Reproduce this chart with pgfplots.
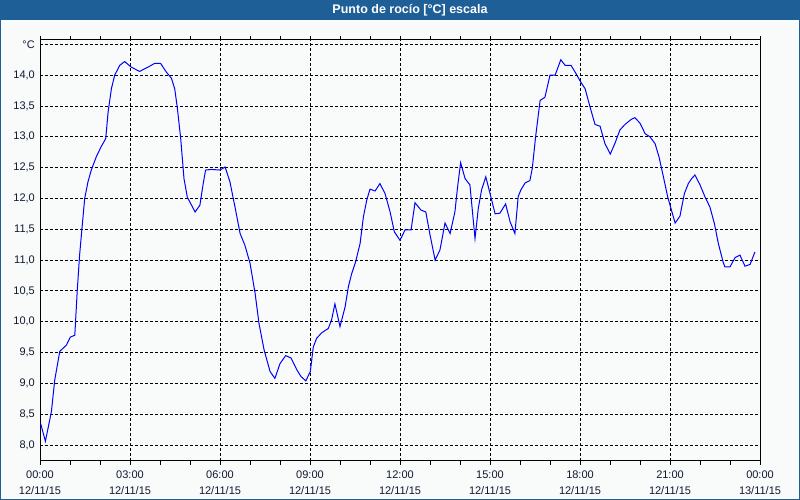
\documentclass[border=0pt]{standalone}
\usepackage{pgfplots}
\pgfplotsset{compat=1.18}
\usepackage{fontspec}
\setmainfont{Liberation Sans}
\definecolor{bgc}{HTML}{F9FBFA}
\definecolor{titlec}{HTML}{1E5F97}
\definecolor{labc}{HTML}{101830}
\begin{document}
\begin{tikzpicture}[x=1bp,y=1bp]
\fill[bgc] (0,0) rectangle (800,500);
\fill[titlec] (0,479.5) rectangle (800,500);
\draw[titlec, line width=1bp] (0.5,0.5) rectangle (799.5,499.5);
\node[text=white, font=\bfseries\fontsize{12.5bp}{14bp}\selectfont] at (410,490) {Punto de rocío [°C] escala};
\begin{axis}[
  at={(40bp,39bp)}, anchor=south west,
  scale only axis, width=720bp, height=421bp,
  xmin=0, xmax=24, ymin=7.74, ymax=14.57,
  axis background/.style={fill=bgc},
  axis line style={black, line width=1bp},
  grid=major,
  major grid style={black, line width=0.8bp, dash pattern=on 3bp off 2bp},
  xtick={0,3,...,24},
  minor xtick={1,2,4,5,7,8,10,11,13,14,16,17,19,20,22,23},
  xticklabels={{00:00\\12/11/15},{03:00\\12/11/15},{06:00\\12/11/15},{09:00\\12/11/15},{12:00\\12/11/15},{15:00\\12/11/15},{18:00\\12/11/15},{21:00\\12/11/15},{00:00\\13/11/15}},
  ytick={8,8.5,9,9.5,10,10.5,11,11.5,12,12.5,13,13.5,14,14.5},
  yticklabels={{8,0},{8,5},{9,0},{9,5},{10,0},{10,5},{11,0},{11,5},{12,0},{12,5},{13,0},{13,5},{14,0},{°C}},
  tick align=outside,
  major tick length=4bp, minor tick length=4bp,
  xtick style={black, line width=0.8bp},
  every minor tick/.append style={black, line width=0.8bp},
  ytick style={draw=none},
  tick label style={font=\fontsize{11bp}{16bp}\selectfont, text=labc},
  xticklabel style={align=center, inner sep=0pt, yshift=-6bp},
  yticklabel style={inner sep=0pt, xshift=-1bp},
]
\addplot[blue, line width=1bp] coordinates {
(0.02,8.35) (0.18,8.06) (0.38,8.54) (0.49,9.05) (0.66,9.52) (0.88,9.62)
(1.01,9.75) (1.16,9.78) (1.24,10.49) (1.32,11.08) (1.40,11.52) (1.49,12.00)
(1.60,12.27) (1.71,12.46) (1.88,12.68) (2.04,12.84) (2.19,12.97) (2.27,13.40)
(2.38,13.78) (2.49,14.00) (2.66,14.16) (2.82,14.22) (3.04,14.13) (3.32,14.06)
(3.60,14.13) (3.82,14.19) (4.02,14.19) (4.21,14.05) (4.38,13.95) (4.49,13.78)
(4.58,13.46) (4.69,12.97) (4.80,12.32) (4.91,12.02) (5.17,11.78) (5.33,11.89)
(5.44,12.24) (5.52,12.46) (5.72,12.47) (6.00,12.46) (6.17,12.51) (6.33,12.27)
(6.50,11.86) (6.67,11.43) (6.83,11.24) (7.00,10.95) (7.17,10.46) (7.30,9.97)
(7.47,9.54) (7.67,9.19) (7.83,9.08) (8.00,9.32) (8.19,9.45) (8.37,9.41)
(8.56,9.22) (8.70,9.11) (8.86,9.04) (9.01,9.19) (9.11,9.59) (9.22,9.73)
(9.39,9.82) (9.61,9.89) (9.72,10.03) (9.83,10.29) (10.00,9.92) (10.17,10.24)
(10.28,10.57) (10.39,10.78) (10.52,10.97) (10.67,11.27) (10.78,11.70) (10.89,11.97)
(11.00,12.15) (11.17,12.12) (11.33,12.24) (11.50,12.08) (11.67,11.78) (11.81,11.46)
(12.00,11.32) (12.17,11.49) (12.37,11.49) (12.50,11.93) (12.70,11.81) (12.86,11.78)
(13.00,11.41) (13.17,11.00) (13.33,11.16) (13.50,11.60) (13.67,11.43) (13.83,11.78)
(13.92,12.19) (14.02,12.58) (14.17,12.32) (14.33,12.22) (14.50,11.35) (14.61,11.84)
(14.72,12.14) (14.86,12.35) (15.00,12.08) (15.17,11.75) (15.33,11.76) (15.52,11.91)
(15.67,11.62) (15.83,11.43) (15.94,12.03) (16.03,12.14) (16.17,12.25) (16.33,12.29)
(16.41,12.49) (16.52,13.00) (16.67,13.59) (16.83,13.64) (17.00,14.00) (17.17,14.00)
(17.36,14.25) (17.50,14.16) (17.70,14.16) (17.86,14.03) (18.02,13.89) (18.17,13.78)
(18.33,13.49) (18.50,13.20) (18.67,13.17) (18.83,12.89) (19.01,12.72) (19.17,12.90)
(19.33,13.11) (19.50,13.20) (19.70,13.28) (19.83,13.31) (20.00,13.22) (20.17,13.05)
(20.33,13.00) (20.50,12.89) (20.63,12.68) (20.78,12.35) (20.92,12.03) (21.03,11.84)
(21.17,11.60) (21.33,11.71) (21.48,12.08) (21.61,12.24) (21.72,12.32) (21.83,12.38)
(22.00,12.22) (22.17,12.02) (22.33,11.86) (22.48,11.59) (22.61,11.27) (22.78,10.95)
(22.83,10.89) (23.00,10.89) (23.17,11.04) (23.33,11.08) (23.50,10.90) (23.67,10.93)
(23.83,11.13)
};
\end{axis}
\end{tikzpicture}
\end{document}
